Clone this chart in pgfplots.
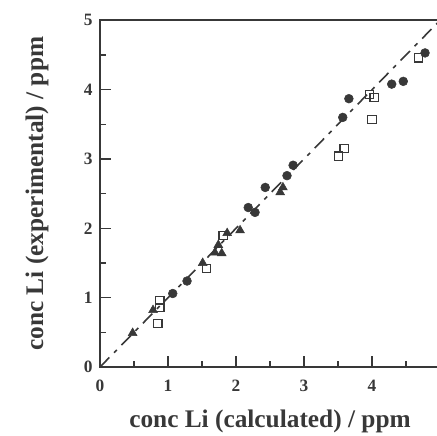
\documentclass[border=0pt]{standalone}
\usepackage{pgfplots}
\pgfplotsset{compat=1.18}
\usepackage{fontspec}
\setmainfont{Liberation Serif}
\definecolor{ink}{gray}{0.22}
\begin{document}
\begin{tikzpicture}
\begin{axis}[
  at={(0pt,0pt)}, anchor=south west,
  scale only axis,
  width=255pt, height=260pt,
  xmin=0, xmax=5, ymin=0, ymax=5,
  xtick={0,1,2,3,4}, ytick={0,1,2,3,4,5},
  minor xtick={0.5,1.5,2.5,3.5,4.5},
  minor ytick={0.5,1.5,2.5,3.5,4.5},
  tick pos=left,
  tick align=inside,
  major tick length=8pt,
  minor tick length=4.5pt,
  axis line style={ink, line width=1.3pt},
  every tick/.style={ink, line width=1.1pt},
  /pgf/number format/assume math mode=true,
  ticklabel style={font=\fontsize{13}{13}\selectfont\bfseries, text=ink},
  xticklabel style={yshift=-6pt},
  yticklabel style={xshift=-2pt},
  xlabel={conc Li (calculated) / ppm},
  ylabel={conc Li (experimental) / ppm},
  every axis x label/.style={at={(axis description cs:0.5,-0.156)}, anchor=center, font=\fontsize{19}{19}\selectfont\bfseries, text=ink},
  every axis y label/.style={at={(axis description cs:-0.185,0.5)}, anchor=center, rotate=90, font=\fontsize{19}{19}\selectfont\bfseries, text=ink},
  clip=false,
]
\addplot[ink, line width=1.2pt, dash pattern=on 10pt off 5pt on 3pt off 5pt] coordinates {(0,0) (5,5)};
\addplot[only marks, mark=square, mark size=3.1pt, mark options={ink, line width=0.9pt, fill=white}] coordinates {
(0.85,0.63) (0.88,0.96) (0.88,0.86) (1.57,1.42) (1.81,1.90)
(3.51,3.04) (3.59,3.15) (3.96,3.93) (4.03,3.89) (4.00,3.57) (4.68,4.46)};
\addplot[only marks, mark=*, mark size=3.3pt, mark options={ink, fill=ink}] coordinates {
(1.07,1.06) (1.28,1.24) (2.18,2.30) (2.28,2.23) (2.43,2.59)
(2.75,2.76) (2.84,2.91) (3.57,3.60) (3.66,3.87) (4.29,4.08) (4.46,4.12) (4.78,4.53)};
\addplot[only marks, mark=triangle*, mark size=3.8pt, mark options={ink, fill=ink}] coordinates {
(0.48,0.49) (0.78,0.82) (1.51,1.50) (1.69,1.65) (1.74,1.76) (1.79,1.64)
(1.87,1.93) (2.06,1.97) (2.65,2.52) (2.69,2.59)};
\end{axis}
\path (0,0) rectangle (255pt,260pt);
\pgfresetboundingbox
\path (-75pt,-51.75pt) rectangle (252pt,275.25pt);
\end{tikzpicture}
\end{document}
